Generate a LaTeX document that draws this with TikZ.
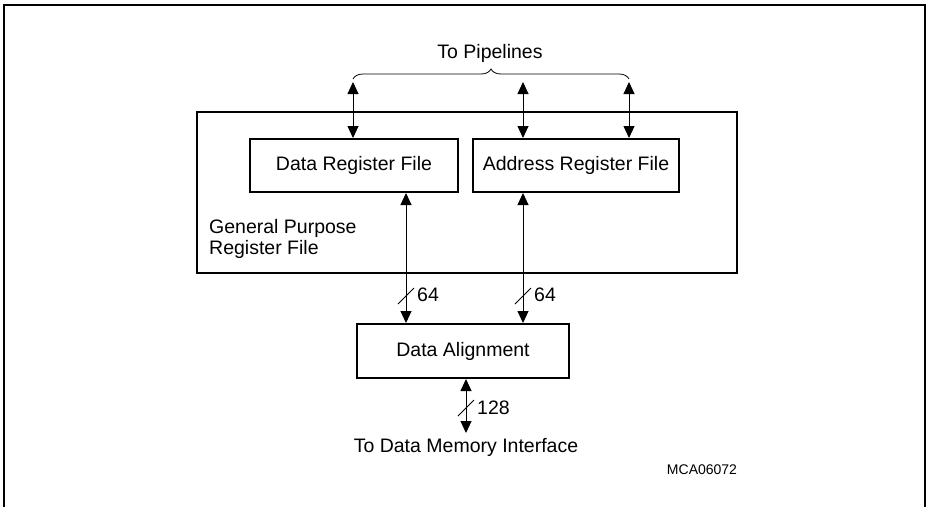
\documentclass[tikz,border=0pt]{standalone}
\usepackage{fontspec}
\setmainfont{Liberation Sans}
\usetikzlibrary{arrows.meta,decorations.pathreplacing}
\begin{document}
\begin{tikzpicture}[x=1pt,y=-1pt,
  font=\fontsize{19.5}{21}\selectfont,
  box/.style={draw,line width=2pt,minimum width=#1,inner sep=0pt},
  bus/.style={line width=0.9pt,{Triangle[width=11pt,length=12pt]}-{Triangle[width=11pt,length=12pt]}},
  slash/.style={line width=0.8pt},
  lbl/.style={anchor=west,inner sep=0pt}]
\useasboundingbox (0,0) rectangle (927,507);
% outer frame
\draw[line width=2pt] (4,507) -- (4,5) -- (925,5) -- (925,507);
% boxes
\node[box=540pt,minimum height=161pt] (gprf) at (467,192.5) {};
\node[box=208pt,minimum height=53pt] (drf) at (354,165.5) {Data Register File};
\node[box=206pt,minimum height=53pt] (arf) at (576,165.5) {Address Register File};
\node[box=212pt,minimum height=54pt] (da) at (463,351) {Data Alignment};
\node[lbl,align=left] (gtxt) at (209,239) {General Purpose\\Register File};
% top buses
\coordinate (t1) at (353,82);
\coordinate (t2) at (523,82);
\coordinate (t3) at (629,82);
\draw[bus] (t1) -- (t1 |- drf.north);
\draw[bus] (t2) -- (t2 |- arf.north);
\draw[bus] (t3) -- (t3 |- arf.north);
\draw[line width=0.8pt,decorate,decoration={brace,amplitude=10pt}] (353,79) -- (629,79);
\node (pipe) at (490,53) {To Pipelines};
% lower buses
\coordinate (b1) at (406,192);
\coordinate (b2) at (523,192);
\draw[bus] (b1 |- drf.south) -- (b1 |- da.north);
\draw[bus] (b2 |- arf.south) -- (b2 |- da.north);
\coordinate (s1) at (406,296);
\coordinate (s2) at (523,296);
\draw[slash] ([shift={(-8,8)}]s1) -- ([shift={(8,-8)}]s1);
\draw[slash] ([shift={(-8,8)}]s2) -- ([shift={(8,-8)}]s2);
\node[lbl] (l1) at (417,295) {64};
\node[lbl] (l2) at (534,295) {64};
% bottom bus
\coordinate (m) at (466,433);
\draw[bus] (m |- da.south) -- (m);
\coordinate (s3) at (466,408);
\draw[slash] ([shift={(-8,8)}]s3) -- ([shift={(8,-8)}]s3);
\node[lbl] (l3) at (477,408) {128};
\node (mem) at (466,447) {To Data Memory Interface};
\node[font=\fontsize{14}{16}\selectfont] (id) at (702,470) {MCA06072};
\end{tikzpicture}
\end{document}
